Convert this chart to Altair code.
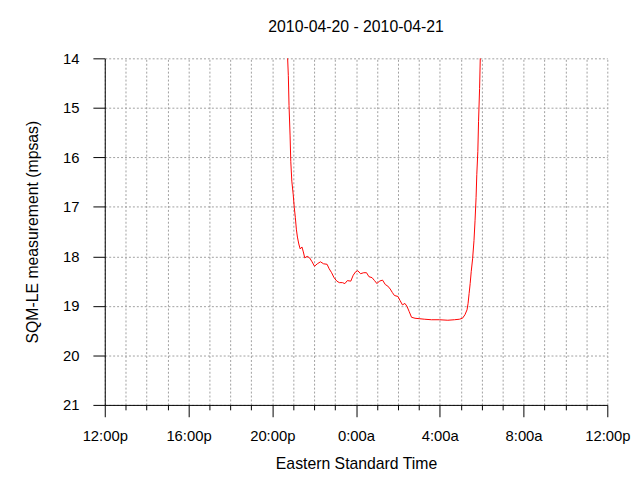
import altair as alt
import pandas as pd

# Minutes after 2010-04-20 12:00 (EST) and SQM-LE readings (mpsas)
minutes_after_noon = [519, 524, 526, 528, 531, 533, 536, 540, 543, 546,
                      549, 552, 556, 560, 565, 569, 573, 580, 587, 594,
                      601, 609, 618, 627, 637, 643, 650, 657, 665, 672,
                      681, 688, 695, 705, 712, 719, 725, 733, 742, 750,
                      757, 766, 773, 780, 787, 796, 804, 811, 818, 824,
                      830, 840, 846, 853, 860, 866, 872, 879, 889, 903,
                      917, 936, 959, 983, 1002, 1016, 1025, 1032, 1038, 1041,
                      1044, 1047, 1050, 1054, 1058, 1061, 1064, 1066, 1069, 1071,
                      1074, 1076, 1079]
mpsas = [13.40, 14.00, 14.35, 14.95, 15.55, 16.08, 16.48, 16.75, 17.01, 17.21,
         17.45, 17.61, 17.75, 17.85, 17.81, 17.91, 18.03, 18.00, 18.03, 18.11,
         18.20, 18.15, 18.11, 18.15, 18.16, 18.25, 18.33, 18.43, 18.50, 18.53,
         18.53, 18.55, 18.49, 18.50, 18.38, 18.31, 18.29, 18.35, 18.33, 18.33,
         18.41, 18.43, 18.49, 18.55, 18.50, 18.48, 18.57, 18.60, 18.66, 18.73,
         18.79, 18.81, 18.89, 18.98, 18.95, 19.01, 19.11, 19.23, 19.25, 19.26,
         19.27, 19.28, 19.28, 19.29, 19.28, 19.27, 19.25, 19.18, 19.08, 18.95,
         18.75, 18.55, 18.31, 18.05, 17.68, 17.28, 16.81, 16.35, 15.88, 15.28,
         14.61, 14.00, 13.40]

tick_hours = list(range(12, 37))          # hourly ticks from noon to noon
y_ticks = [14, 15, 16, 17, 18, 19, 20, 21]
chart_title = "2010-04-20 - 2010-04-21"
x_title = "Eastern Standard Time"
y_title = "SQM-LE measurement (mpsas)"

start = pd.Timestamp("2010-04-20 12:00:00")
df = pd.DataFrame({
    "time": [(start + pd.Timedelta(minutes=m)).strftime("%Y-%m-%dT%H:%M:%S")
             for m in minutes_after_noon],
    "mpsas": mpsas,
})

x_values = [alt.DateTime(year=2010, month=4, date=20 + h // 24, hours=h % 24)
            for h in tick_hours]
x_domain = [alt.DateTime(year=2010, month=4, date=20, hours=12),
            alt.DateTime(year=2010, month=4, date=21, hours=12)]

FONT = "Liberation Sans"

x_axis = alt.Axis(
    values=x_values,
    labelExpr="hours(datum.value) % 4 == 0 ? hours(datum.value) + ':00' + (hours(datum.value) < 12 ? 'a' : 'p') : ''",
    tickSize={"condition": {"test": "hours(datum.value) % 4 == 0", "value": 12}, "value": 5},
    labelPadding=24,
    labelBaseline="alphabetic",
    labelFlush=False,
    labelOverlap=False,
    title=x_title,
    titleBaseline="alphabetic",
    titlePadding=25,
    grid=True,
)

y_axis = alt.Axis(
    values=y_ticks,
    tickSize=12,
    labelPadding=14,
    title=y_title,
    titlePadding=22,
    grid=True,
    format="d",
)

chart = alt.Chart(df).mark_line(color="#ff0000", strokeWidth=1, clip=True).encode(
    x=alt.X("time:T", scale=alt.Scale(domain=x_domain, nice=False), axis=x_axis),
    y=alt.Y("mpsas:Q", scale=alt.Scale(domain=[14, 21], reverse=True, nice=False, zero=False), axis=y_axis),
).properties(
    width=509,
    height=351,
    title=alt.TitleParams(chart_title, font=FONT, fontSize=16, fontWeight="normal",
                          color="black", anchor="middle", frame="group",
                          baseline="alphabetic", offset=4),
    autosize=alt.AutoSizeParams(type="none"),
    padding={"left": 98, "top": 48, "right": 25, "bottom": 67},
).configure_axis(
    labelFont=FONT, labelFontSize=15, labelColor="black",
    titleFont=FONT, titleFontSize=16, titleFontWeight="normal", titleColor="black",
    domainColor="black", domainWidth=1, tickColor="black", tickWidth=1,
    gridColor="#a0a0a0", gridDash=[2, 2], gridWidth=1,
).configure_view(strokeWidth=0)

chart.save("out.html", embed_options={"renderer": "svg", "actions": False})
